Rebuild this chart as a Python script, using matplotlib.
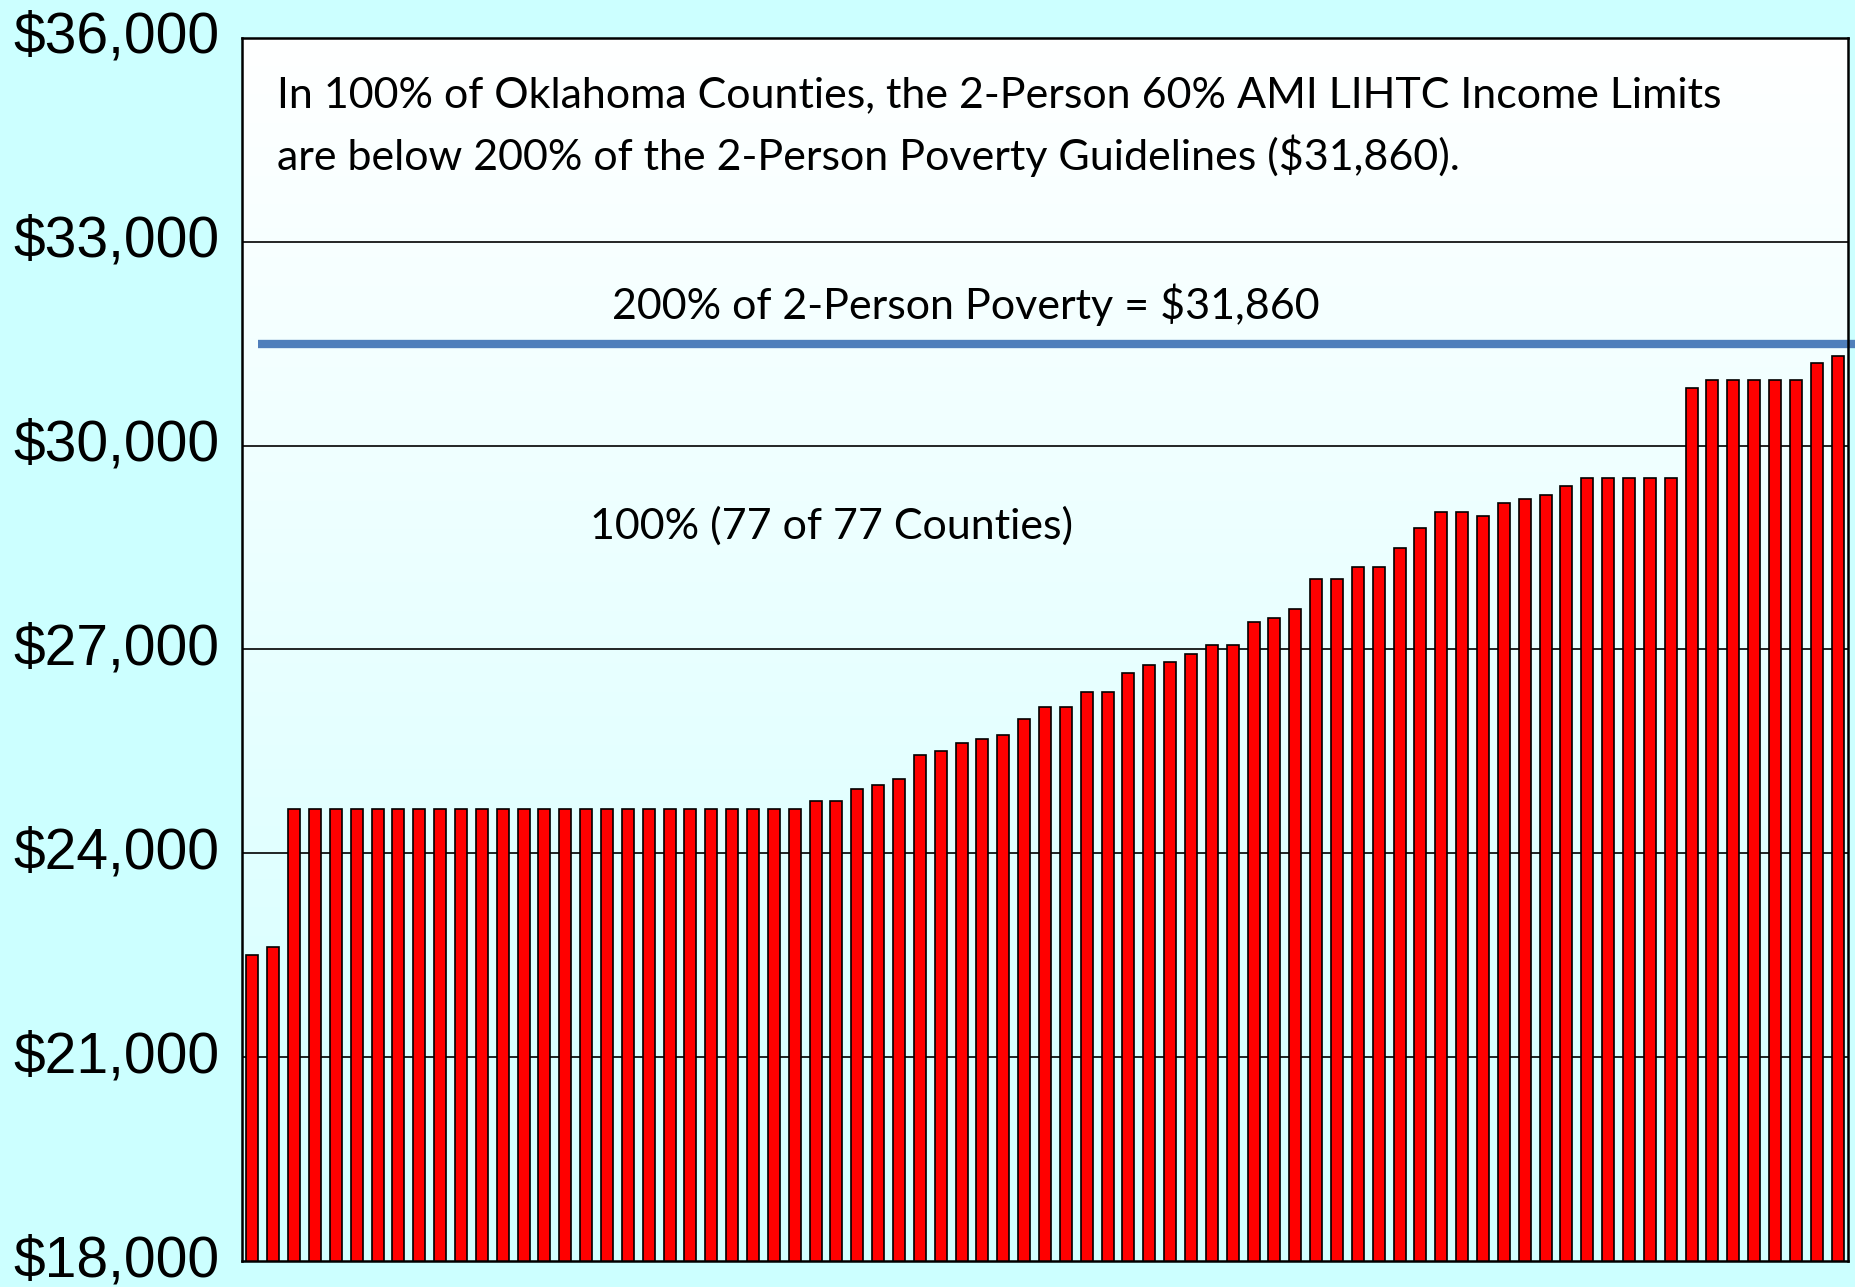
import matplotlib.pyplot as plt
import matplotlib.transforms as mtransforms
import numpy as np
from matplotlib.colors import LinearSegmentedColormap

# 2-person 60% AMI LIHTC income limits, Oklahoma counties (sorted)
limits = ([22500, 22620] + [24650] * 25 +
          [24770, 24770, 24940, 25000, 25090, 25440, 25500, 25620, 25680, 25740,
           25970, 26150, 26150, 26380, 26380, 26650, 26770, 26820, 26940, 27060,
           27060, 27410, 27470, 27590, 28030, 28030, 28210, 28210, 28500, 28790,
           29030, 29030, 28970, 29150, 29210, 29270, 29410,
           29530, 29530, 29530, 29530, 29530,
           30850, 30970, 30970, 30970, 30970, 30970, 31210, 31320])
poverty_line = 31500  # where the blue line sits in the picture
yticks = [18000, 21000, 24000, 27000, 30000, 33000, 36000]
ytick_labels = ['$18,000', '$21,000', '$24,000', '$27,000', '$30,000', '$33,000', '$36,000']

note1 = "In 100% of Oklahoma Counties, the 2-Person 60% AMI LIHTC Income Limits"
note2 = "are below 200% of the 2-Person Poverty Guidelines ($31,860)."
line_label = "200% of 2-Person Poverty = $31,860"
count_label = "100% (77 of 77 Counties)"

bg = '#ccffff'
fig = plt.figure(figsize=(18.56, 12.87), dpi=100, facecolor=bg)
ax = fig.add_axes([0.1304, 0.0202, 0.8653, 0.9503])

n = len(limits)
ind = np.arange(n)
ax.set_xlim(-0.5, n - 0.5)

# gradient plot area
cmap = LinearSegmentedColormap.from_list('bg', ['#d2ffff', '#ffffff'])
grad = np.linspace(0, 1, 256).reshape(-1, 1)
ax.imshow(grad, cmap=cmap, aspect='auto', extent=[-0.5, n - 0.5, 36000, 18000],
          zorder=0, origin='upper')
ax.set_ylim(18000, 36000)

ax.set_yticks(yticks)
ax.set_yticklabels(ytick_labels, fontsize=41, family='Liberation Sans')
ax.tick_params(axis='y', length=0, pad=16)
ax.set_xticks([])
# nudge labels up a little so the bottom one stays inside the figure
shift = mtransforms.ScaledTranslation(0, 6 / 100, fig.dpi_scale_trans)
for lbl in ax.get_yticklabels():
    lbl.set_transform(lbl.get_transform() + shift)

for y in yticks[1:-1]:
    ax.axhline(y, color='black', lw=1.2, zorder=1)

ax.bar(ind, limits, 0.58, color='#ff0000', edgecolor='black', linewidth=1.2, zorder=2)

for s in ax.spines.values():
    s.set_linewidth(1.8)
    s.set_color('black')
    s.set_zorder(5)

ax.plot([0.27, n - 0.13], [poverty_line, poverty_line], color='#4f7fbb', lw=6,
        solid_capstyle='butt', clip_on=False, zorder=4)

tfont = dict(family='Lato', fontsize=31, color='black')
ax.text(1.18, 35160, note1, ha='left', va='center', **tfont)
ax.text(1.18, 34265, note2, ha='left', va='center', **tfont)
ax.text(34.18, 32074, line_label, ha='center', va='center', **tfont)
ax.text(27.76, 28824, count_label, ha='center', va='center', **tfont)

fig.savefig('out.png', dpi=100, facecolor=bg)
